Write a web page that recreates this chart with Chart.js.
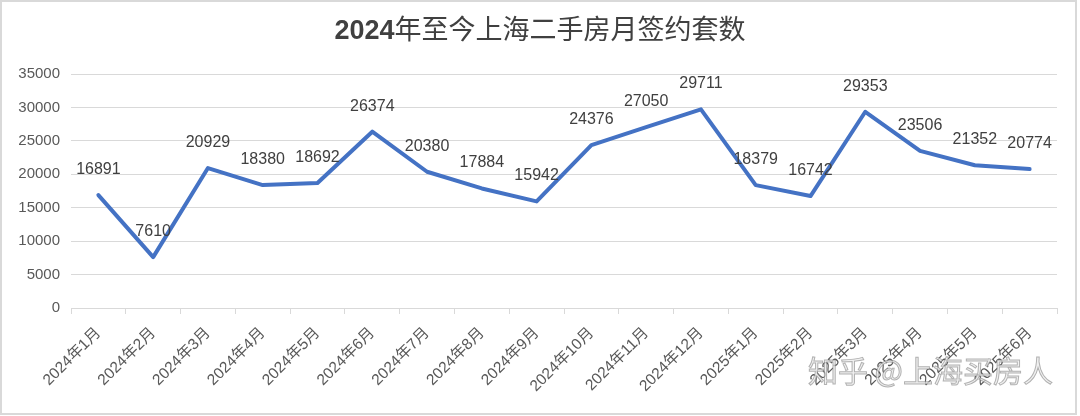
<!DOCTYPE html>
<html>
<head>
<meta charset="utf-8">
<script src="https://cdn.jsdelivr.net/npm/chart.js@4/dist/chart.umd.min.js"></script>
<style>
  html, body { margin: 0; padding: 0; background: #fff; }
  #wrap { width: 1080px; height: 416px; position: relative; }
</style>
</head>
<body>
<div id="wrap"><canvas id="salesChart" width="1080" height="416"></canvas></div>
<script>
// 数据
const chartTitle = '2024年至今上海二手房月签约套数';
const months = [
    '2024年1月', '2024年2月', '2024年3月', '2024年4月', '2024年5月', '2024年6月',
    '2024年7月', '2024年8月', '2024年9月', '2024年10月', '2024年11月', '2024年12月',
    '2025年1月', '2025年2月', '2025年3月', '2025年4月', '2025年5月', '2025年6月'
];
const deals = [
    16891, 7610, 20929, 18380, 18692, 26374,
    20380, 17884, 15942, 24376, 27050, 29711,
    18379, 16742, 29353, 23506, 21352, 20774
];
const yMin = 0;
const yMax = 35000;
const yStep = 5000;
const watermark = '知乎 @上海买房人';

const FONT = '"Liberation Sans", "Noto Sans CJK SC", sans-serif';

// 边框 + 标题 + 水印
const decorPlugin = {
    id: 'decor',
    beforeDraw(chart) {
        const ctx = chart.ctx;
        ctx.save();
        ctx.fillStyle = '#fff';
        ctx.fillRect(0, 0, chart.width, chart.height);
        ctx.strokeStyle = '#d9d9d9';
        ctx.lineWidth = 2;
        ctx.strokeRect(1, 1, 1075, 413);
        ctx.restore();
    },
    afterDraw(chart) {
        const ctx = chart.ctx;
        ctx.save();
        // 标题: 数字加粗, 中文常规
        const head = chartTitle.slice(0, 4);
        const rest = chartTitle.slice(4);
        const fBold = 'bold 27px ' + FONT;
        const fNorm = '27px ' + FONT;
        ctx.font = fBold;
        const w1 = ctx.measureText(head).width;
        ctx.font = fNorm;
        const w2 = ctx.measureText(rest).width;
        let x = 540 - (w1 + w2) / 2;
        ctx.textBaseline = 'middle';
        ctx.textAlign = 'left';
        ctx.fillStyle = '#404040';
        ctx.font = fBold;
        ctx.fillText(head, x, 32);
        ctx.font = fNorm;
        ctx.fillText(rest, x + w1, 32);

        // 水印
        ctx.font = '30px "Noto Sans CJK SC", sans-serif';
        ctx.textAlign = 'right';
        ctx.lineWidth = 1;
        ctx.strokeStyle = 'rgba(120,120,120,0.55)';
        ctx.fillStyle = 'rgba(235,235,235,0.75)';
        ctx.fillText(watermark, 1053, 371);
        ctx.strokeText(watermark, 1053, 371);
        ctx.restore();
    }
};

// 数据标签
const labelPlugin = {
    id: 'pointLabels',
    afterDatasetsDraw(chart) {
        const ctx = chart.ctx;
        const meta = chart.getDatasetMeta(0);
        ctx.save();
        ctx.font = '16px ' + FONT;
        ctx.fillStyle = '#404040';
        ctx.textAlign = 'center';
        ctx.textBaseline = 'middle';
        meta.data.forEach((pt, i) => {
            ctx.fillText(String(deals[i]), pt.x, pt.y - 25.5);
        });
        ctx.restore();
    }
};

new Chart(document.getElementById('salesChart'), {
    type: 'line',
    data: {
        labels: months,
        datasets: [{
            data: deals,
            borderColor: '#4472C4',
            borderWidth: 4,
            borderJoinStyle: 'round',
            borderCapStyle: 'round',
            pointRadius: 0,
            tension: 0,
            fill: false
        }]
    },
    options: {
        responsive: false,
        animation: false,
        devicePixelRatio: 1,
        layout: { padding: { left: 0, right: 23, top: 74, bottom: 0 } },
        plugins: {
            legend: { display: false },
            title: { display: false },
            tooltip: { enabled: false }
        },
        scales: {
            x: {
                type: 'category',
                offset: true,
                grid: {
                    offset: true,
                    drawOnChartArea: false,
                    drawTicks: true,
                    tickLength: 6,
                    color: '#d9d9d9'
                },
                border: { display: true, color: '#d9d9d9', width: 1 },
                ticks: {
                    autoSkip: false,
                    minRotation: 45,
                    maxRotation: 45,
                    padding: 10,
                    color: '#595959',
                    font: { family: FONT, size: 15.5 }
                },
                afterFit(scale) { scale.height = 108; }
            },
            y: {
                min: yMin,
                max: yMax,
                ticks: {
                    stepSize: yStep,
                    padding: 11,
                    color: '#595959',
                    font: { family: FONT, size: 15 },
                    callback: (v) => String(v)
                },
                grid: { color: '#d9d9d9', lineWidth: 1, drawTicks: false },
                border: { display: false },
                afterFit(scale) { scale.width = 71; }
            }
        }
    },
    plugins: [decorPlugin, labelPlugin]
});
</script>
</body>
</html>
